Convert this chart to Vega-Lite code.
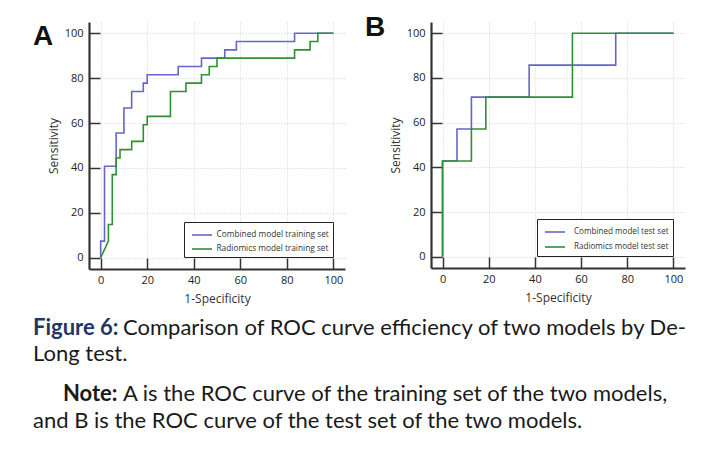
{
  "$schema": "https://vega.github.io/schema/vega-lite/v6.json",
  "padding": {"left": 33, "top": 14, "right": 5, "bottom": 5},
  "background": "white",
  "config": {"view": {"stroke": null}, "font": "Open Sans", "concat": {"spacing": 20}},
  "datasets": {
    "curves": [
      {"panel":"A","series":"Combined model training set","step":0,"x":0,"y":0},
      {"panel":"A","series":"Combined model training set","step":1,"x":0,"y":7.41},
      {"panel":"A","series":"Combined model training set","step":2,"x":1.67,"y":7.41},
      {"panel":"A","series":"Combined model training set","step":3,"x":1.67,"y":40.74},
      {"panel":"A","series":"Combined model training set","step":4,"x":6.67,"y":40.74},
      {"panel":"A","series":"Combined model training set","step":5,"x":6.67,"y":55.56},
      {"panel":"A","series":"Combined model training set","step":6,"x":10,"y":55.56},
      {"panel":"A","series":"Combined model training set","step":7,"x":10,"y":66.67},
      {"panel":"A","series":"Combined model training set","step":8,"x":13.33,"y":66.67},
      {"panel":"A","series":"Combined model training set","step":9,"x":13.33,"y":74.07},
      {"panel":"A","series":"Combined model training set","step":10,"x":18.33,"y":74.07},
      {"panel":"A","series":"Combined model training set","step":11,"x":18.33,"y":77.78},
      {"panel":"A","series":"Combined model training set","step":12,"x":20,"y":77.78},
      {"panel":"A","series":"Combined model training set","step":13,"x":20,"y":81.48},
      {"panel":"A","series":"Combined model training set","step":14,"x":33.33,"y":81.48},
      {"panel":"A","series":"Combined model training set","step":15,"x":33.33,"y":85.19},
      {"panel":"A","series":"Combined model training set","step":16,"x":43.33,"y":85.19},
      {"panel":"A","series":"Combined model training set","step":17,"x":43.33,"y":88.89},
      {"panel":"A","series":"Combined model training set","step":18,"x":53.33,"y":88.89},
      {"panel":"A","series":"Combined model training set","step":19,"x":53.33,"y":92.59},
      {"panel":"A","series":"Combined model training set","step":20,"x":58.33,"y":92.59},
      {"panel":"A","series":"Combined model training set","step":21,"x":58.33,"y":96.3},
      {"panel":"A","series":"Combined model training set","step":22,"x":83.33,"y":96.3},
      {"panel":"A","series":"Combined model training set","step":23,"x":83.33,"y":100},
      {"panel":"A","series":"Combined model training set","step":24,"x":100,"y":100},
      {"panel":"A","series":"Radiomics model training set","step":0,"x":0,"y":0},
      {"panel":"A","series":"Radiomics model training set","step":1,"x":3.33,"y":7.41},
      {"panel":"A","series":"Radiomics model training set","step":2,"x":3.33,"y":14.81},
      {"panel":"A","series":"Radiomics model training set","step":3,"x":5,"y":14.81},
      {"panel":"A","series":"Radiomics model training set","step":4,"x":5,"y":37.04},
      {"panel":"A","series":"Radiomics model training set","step":5,"x":6.67,"y":37.04},
      {"panel":"A","series":"Radiomics model training set","step":6,"x":6.67,"y":44.44},
      {"panel":"A","series":"Radiomics model training set","step":7,"x":8.33,"y":44.44},
      {"panel":"A","series":"Radiomics model training set","step":8,"x":8.33,"y":48.15},
      {"panel":"A","series":"Radiomics model training set","step":9,"x":13.33,"y":48.15},
      {"panel":"A","series":"Radiomics model training set","step":10,"x":13.33,"y":51.85},
      {"panel":"A","series":"Radiomics model training set","step":11,"x":18.33,"y":51.85},
      {"panel":"A","series":"Radiomics model training set","step":12,"x":18.33,"y":59.26},
      {"panel":"A","series":"Radiomics model training set","step":13,"x":20,"y":59.26},
      {"panel":"A","series":"Radiomics model training set","step":14,"x":20,"y":62.96},
      {"panel":"A","series":"Radiomics model training set","step":15,"x":30,"y":62.96},
      {"panel":"A","series":"Radiomics model training set","step":16,"x":30,"y":74.07},
      {"panel":"A","series":"Radiomics model training set","step":17,"x":36.67,"y":74.07},
      {"panel":"A","series":"Radiomics model training set","step":18,"x":36.67,"y":77.78},
      {"panel":"A","series":"Radiomics model training set","step":19,"x":43.33,"y":77.78},
      {"panel":"A","series":"Radiomics model training set","step":20,"x":43.33,"y":81.48},
      {"panel":"A","series":"Radiomics model training set","step":21,"x":46.67,"y":81.48},
      {"panel":"A","series":"Radiomics model training set","step":22,"x":46.67,"y":85.19},
      {"panel":"A","series":"Radiomics model training set","step":23,"x":50,"y":85.19},
      {"panel":"A","series":"Radiomics model training set","step":24,"x":50,"y":88.89},
      {"panel":"A","series":"Radiomics model training set","step":25,"x":83.33,"y":88.89},
      {"panel":"A","series":"Radiomics model training set","step":26,"x":83.33,"y":92.59},
      {"panel":"A","series":"Radiomics model training set","step":27,"x":90,"y":92.59},
      {"panel":"A","series":"Radiomics model training set","step":28,"x":90,"y":96.3},
      {"panel":"A","series":"Radiomics model training set","step":29,"x":93.33,"y":96.3},
      {"panel":"A","series":"Radiomics model training set","step":30,"x":93.33,"y":100},
      {"panel":"A","series":"Radiomics model training set","step":31,"x":100,"y":100},
      {"panel":"B","series":"Combined model test set","step":0,"x":0,"y":0},
      {"panel":"B","series":"Combined model test set","step":1,"x":0,"y":42.86},
      {"panel":"B","series":"Combined model test set","step":2,"x":6.25,"y":42.86},
      {"panel":"B","series":"Combined model test set","step":3,"x":6.25,"y":57.14},
      {"panel":"B","series":"Combined model test set","step":4,"x":12.5,"y":57.14},
      {"panel":"B","series":"Combined model test set","step":5,"x":12.5,"y":71.43},
      {"panel":"B","series":"Combined model test set","step":6,"x":37.5,"y":71.43},
      {"panel":"B","series":"Combined model test set","step":7,"x":37.5,"y":85.71},
      {"panel":"B","series":"Combined model test set","step":8,"x":75,"y":85.71},
      {"panel":"B","series":"Combined model test set","step":9,"x":75,"y":100},
      {"panel":"B","series":"Combined model test set","step":10,"x":100,"y":100},
      {"panel":"B","series":"Radiomics model test set","step":0,"x":0,"y":0},
      {"panel":"B","series":"Radiomics model test set","step":1,"x":0,"y":42.86},
      {"panel":"B","series":"Radiomics model test set","step":2,"x":12.5,"y":42.86},
      {"panel":"B","series":"Radiomics model test set","step":3,"x":12.5,"y":57.14},
      {"panel":"B","series":"Radiomics model test set","step":4,"x":18.75,"y":57.14},
      {"panel":"B","series":"Radiomics model test set","step":5,"x":18.75,"y":71.43},
      {"panel":"B","series":"Radiomics model test set","step":6,"x":56.25,"y":71.43},
      {"panel":"B","series":"Radiomics model test set","step":7,"x":56.25,"y":100},
      {"panel":"B","series":"Radiomics model test set","step":8,"x":100,"y":100}
    ],
    "caption": [
      {"part":"fig","line":1,"text":"Figure 6:"},
      {"part":"l1","line":1,"text":"Comparison of ROC curve efficiency of two models by De-"},
      {"part":"l2","line":2,"text":"Long test."},
      {"part":"note","line":3,"text":"Note:"},
      {"part":"l3","line":3,"text":"A is the ROC curve of the training set of the two models,"},
      {"part":"l4","line":4,"text":"and B is the ROC curve of the test set of the two models."}
    ]
  },
  "vconcat": [
    {
      "hconcat": [
        {
          "width": 256, "height": 247,
          "title": {"text": "A", "anchor": "start", "frame": "group", "font": "Liberation Sans", "fontSize": 28, "fontWeight": "bold", "color": "#111", "dx": -56, "dy": 29, "offset": 0},
          "layer": [
            {"mark": {"type": "rule", "color": "#d8b4b4", "strokeWidth": 1},
             "encoding": {"x": {"datum": 0, "type": "quantitative"}, "y": {"datum": 0, "type": "quantitative"}, "x2": {"datum": 100}, "y2": {"datum": 100}}},
            {"data": {"name": "curves"},
             "transform": [{"filter": "datum.panel === 'A'"}],
             "mark": {"type": "line", "strokeWidth": 1.6, "interpolate": "linear"},
             "encoding": {
               "x": {"field": "x", "type": "quantitative", "scale": {"domain": [-5, 105], "nice": false, "zero": false},
                     "axis": {"title": "1-Specificity", "values": [0,5,10,15,20,25,30,35,40,45,50,55,60,65,70,75,80,85,90,95,100],
                              "labelExpr": "datum.value % 20 === 0 ? datum.label : ''", "labelFont": "Open Sans", "labelFontSize": 11, "labelColor": "#222", "labelPadding": 16,
                              "tickSize": {"condition": {"test": "datum.value % 20 === 0", "value": -11}, "value": -5}, "tickColor": "#333", "tickWidth": 1.5,
                              "domainColor": "#333", "domainWidth": 2.2,
                              "grid": true, "gridColor": "#d0d0d0", "gridDash": [1, 2], "gridOpacity": {"condition": {"test": "datum.value % 20 === 0", "value": 1}, "value": 0},
                              "titleFont": "Open Sans", "titleFontSize": 12, "titleFontWeight": "normal", "titleColor": "#333", "titlePadding": 8}},
               "y": {"field": "y", "type": "quantitative", "scale": {"domain": [-5, 105], "nice": false, "zero": false},
                     "axis": {"title": "Sensitivity", "values": [0,5,10,15,20,25,30,35,40,45,50,55,60,65,70,75,80,85,90,95,100],
                              "labelExpr": "datum.value % 20 === 0 ? datum.label : ''", "labelFont": "Open Sans", "labelFontSize": 11, "labelColor": "#222", "labelPadding": 17,
                              "tickSize": {"condition": {"test": "datum.value % 20 === 0", "value": -11}, "value": -5}, "tickColor": "#333", "tickWidth": 1.5,
                              "domainColor": "#333", "domainWidth": 2.2,
                              "grid": true, "gridColor": "#d0d0d0", "gridDash": [1, 2], "gridOpacity": {"condition": {"test": "datum.value % 20 === 0", "value": 1}, "value": 0},
                              "titleFont": "Open Sans", "titleFontSize": 12, "titleFontWeight": "normal", "titleColor": "#333", "titlePadding": 4}},
               "color": {"field": "series", "type": "nominal",
                         "scale": {"domain": ["Combined model training set", "Radiomics model training set"], "range": ["#6666c8", "#2f8f35"]},
                         "legend": {"title": null, "orient": "bottom-right", "offset": 12, "strokeColor": "#222", "fillColor": "white", "padding": 4,
                                    "symbolType": "M-1.25,0H1.25", "symbolSize": 256, "symbolStrokeWidth": 1.6, "symbolOffset": 5, "labelFont": "Open Sans", "labelFontSize": 8.3, "labelColor": "#333", "rowPadding": 1, "labelOffset": 5.5}},
               "order": {"field": "step", "type": "quantitative"}
             }}
          ]
        },
        {
          "width": 254, "height": 246,
          "title": {"text": "B", "anchor": "start", "frame": "group", "font": "Liberation Sans", "fontSize": 28, "fontWeight": "bold", "color": "#111", "dx": -66, "dy": 20, "offset": 0},
          "layer": [
            {"mark": {"type": "rule", "color": "#d8b4b4", "strokeWidth": 1},
             "encoding": {"x": {"datum": 0, "type": "quantitative"}, "y": {"datum": 0, "type": "quantitative"}, "x2": {"datum": 100}, "y2": {"datum": 100}}},
            {"data": {"name": "curves"},
             "transform": [{"filter": "datum.panel === 'B'"}],
             "mark": {"type": "line", "strokeWidth": 1.6, "interpolate": "linear"},
             "encoding": {
               "x": {"field": "x", "type": "quantitative", "scale": {"domain": [-5, 105], "nice": false, "zero": false},
                     "axis": {"title": "1-Specificity", "values": [0,5,10,15,20,25,30,35,40,45,50,55,60,65,70,75,80,85,90,95,100],
                              "labelExpr": "datum.value % 20 === 0 ? datum.label : ''", "labelFont": "Open Sans", "labelFontSize": 11, "labelColor": "#222", "labelPadding": 16,
                              "tickSize": {"condition": {"test": "datum.value % 20 === 0", "value": -11}, "value": -5}, "tickColor": "#333", "tickWidth": 1.5,
                              "domainColor": "#333", "domainWidth": 2.2,
                              "grid": true, "gridColor": "#d0d0d0", "gridDash": [1, 2], "gridOpacity": {"condition": {"test": "datum.value % 20 === 0", "value": 1}, "value": 0},
                              "titleFont": "Open Sans", "titleFontSize": 12, "titleFontWeight": "normal", "titleColor": "#333", "titlePadding": 8}},
               "y": {"field": "y", "type": "quantitative", "scale": {"domain": [-5, 105], "nice": false, "zero": false},
                     "axis": {"title": "Sensitivity", "values": [0,5,10,15,20,25,30,35,40,45,50,55,60,65,70,75,80,85,90,95,100],
                              "labelExpr": "datum.value % 20 === 0 ? datum.label : ''", "labelFont": "Open Sans", "labelFontSize": 11, "labelColor": "#222", "labelPadding": 17,
                              "tickSize": {"condition": {"test": "datum.value % 20 === 0", "value": -11}, "value": -5}, "tickColor": "#333", "tickWidth": 1.5,
                              "domainColor": "#333", "domainWidth": 2.2,
                              "grid": true, "gridColor": "#d0d0d0", "gridDash": [1, 2], "gridOpacity": {"condition": {"test": "datum.value % 20 === 0", "value": 1}, "value": 0},
                              "titleFont": "Open Sans", "titleFontSize": 12, "titleFontWeight": "normal", "titleColor": "#333", "titlePadding": 4}},
               "color": {"field": "series", "type": "nominal",
                         "scale": {"domain": ["Combined model test set", "Radiomics model test set"], "range": ["#6666c8", "#2f8f35"]},
                         "legend": {"title": null, "orient": "bottom-right", "offset": 12, "strokeColor": "#222", "fillColor": "white", "padding": 4,
                                    "symbolType": "M-1.25,0H1.25", "symbolSize": 256, "symbolStrokeWidth": 1.6, "symbolOffset": 5, "labelFont": "Open Sans", "labelFontSize": 8.1, "labelColor": "#333", "rowPadding": 1, "labelOffset": 10,
                                    "labelExpr": "datum.label + '\u00a0\u00a0\u00a0\u00a0\u00a0\u00a0'"}},
               "order": {"field": "step", "type": "quantitative"}
             }}
          ]
        }
      ],
      "resolve": {"scale": {"color": "independent", "x": "independent", "y": "independent"}, "legend": {"color": "independent"}}
    },
    {
      "width": 600, "height": 93,
      "data": {"name": "caption"},
      "encoding": {
        "y": {"field": "line", "type": "ordinal", "axis": null, "scale": {"type": "point", "padding": 0}},
        "x": {"value": 0},
        "text": {"field": "text"}
      },
      "layer": [
        {"transform": [{"filter": "datum.part === 'fig'"}], "mark": {"type": "text", "align": "left", "baseline": "middle", "font": "Lato", "fontSize": 22, "fontWeight": "bold", "color": "#1f3763", "dx": -56}},
        {"transform": [{"filter": "datum.part === 'l1'"}], "mark": {"type": "text", "align": "left", "baseline": "middle", "font": "Lato", "fontSize": 22, "color": "#1a1a1a", "dx": 34}},
        {"transform": [{"filter": "datum.part === 'l2'"}], "mark": {"type": "text", "align": "left", "baseline": "middle", "font": "Lato", "fontSize": 22, "color": "#1a1a1a", "dx": -56, "dy": -5}},
        {"transform": [{"filter": "datum.part === 'note'"}], "mark": {"type": "text", "align": "left", "baseline": "middle", "font": "Lato", "fontSize": 22, "fontWeight": "bold", "color": "#1a1a1a", "dx": -26, "dy": 4}},
        {"transform": [{"filter": "datum.part === 'l3'"}], "mark": {"type": "text", "align": "left", "baseline": "middle", "font": "Lato", "fontSize": 22, "color": "#1a1a1a", "dx": 34, "dy": 4}},
        {"transform": [{"filter": "datum.part === 'l4'"}], "mark": {"type": "text", "align": "left", "baseline": "middle", "font": "Lato", "fontSize": 22, "color": "#1a1a1a", "dx": -56}}
      ]
    }
  ],
  "spacing": 13
}
